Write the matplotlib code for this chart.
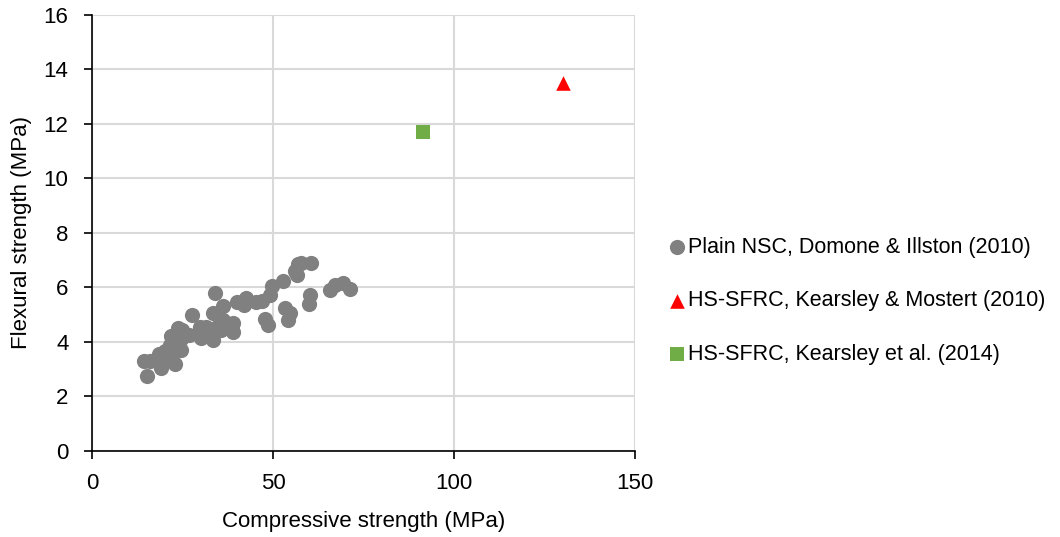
import matplotlib
matplotlib.use('Agg')
import matplotlib.pyplot as plt

plt.rcParams['font.family'] = ['Liberation Sans', 'DejaVu Sans']

# plain NSC points (Domone & Illston 2010)
nsc_x = [14.3, 15.2, 16.0, 18.6, 19.1, 18.0, 20.1, 21.0, 22.8, 23.3, 24.6, 21.8, 21.5, 23.7,
         24.9, 24.7, 26.9, 27.6, 29.7, 30.1, 31.6, 31.0, 33.4, 33.9, 33.5, 34.5, 36.2, 36.2,
         35.5, 38.5, 39.0, 39.0, 39.9, 42.6, 42.0, 45.4, 47.0, 47.7, 48.6, 49.1, 49.6, 52.8,
         53.2, 54.6, 54.1, 56.0, 56.9, 57.8, 60.6, 60.1, 59.9, 65.7, 67.0, 69.3, 71.2, 56.5]
nsc_y = [3.3, 2.75, 3.3, 3.55, 3.05, 3.3, 3.65, 3.45, 3.2, 3.65, 3.7, 4.2, 3.9, 4.5,
         4.45, 4.1, 4.25, 5.0, 4.55, 4.15, 4.55, 4.25, 4.05, 5.8, 5.05, 4.55, 5.3, 4.8,
         4.45, 4.6, 4.35, 4.7, 5.45, 5.6, 5.35, 5.45, 5.5, 4.85, 4.6, 5.7, 6.05, 6.25,
         5.25, 5.05, 4.8, 6.6, 6.85, 6.9, 6.9, 5.7, 5.4, 5.9, 6.1, 6.15, 5.95, 6.45]

# HS-SFRC
km_x = [130]
km_y = [13.5]
ke_x = [91.5]
ke_y = [11.7]

fig = plt.figure(figsize=(10.6, 5.37), dpi=100)
ax = fig.add_axes([0.0868, 0.1607, 0.5125, 0.8113])

ax.scatter(nsc_x, nsc_y, s=120, color='#808080', marker='o', linewidths=0,
           label='Plain NSC, Domone & Illston (2010)', zorder=3)
ax.scatter(km_x, km_y, s=110, color='#ff0000', marker='^', linewidths=0,
           label='HS-SFRC, Kearsley & Mostert (2010)', zorder=3)
ax.scatter(ke_x, ke_y, s=110, color='#70ad47', marker='s', linewidths=0,
           label='HS-SFRC, Kearsley et al. (2014)', zorder=3)

ax.set_xlim(0, 150)
ax.set_ylim(0, 16)
ax.set_xticks([0, 50, 100, 150])
ax.set_yticks(range(0, 17, 2))
ax.grid(True, color='#d9d9d9', linewidth=1.5)
ax.set_axisbelow(True)
for s in ['top', 'right']:
    ax.spines[s].set_visible(False)
for s in ['left', 'bottom']:
    ax.spines[s].set_color('black')
    ax.spines[s].set_linewidth(1.2)
ax.tick_params(direction='out', length=6, width=1.2, labelsize=16)
ax.tick_params(axis='x', pad=10)
ax.tick_params(axis='y', pad=11)

ax.set_xlabel('Compressive strength (MPa)', fontsize=16, labelpad=12)
ax.set_ylabel('Flexural strength (MPa)', fontsize=16, labelpad=8)

fig.legend(loc='center left', bbox_to_anchor=(0.620, 0.44), frameon=False,
           fontsize=15.5, handletextpad=0.05, labelspacing=1.5, borderaxespad=0,
           handlelength=1.0, scatterpoints=1)

fig.savefig('out.png', dpi=100)
